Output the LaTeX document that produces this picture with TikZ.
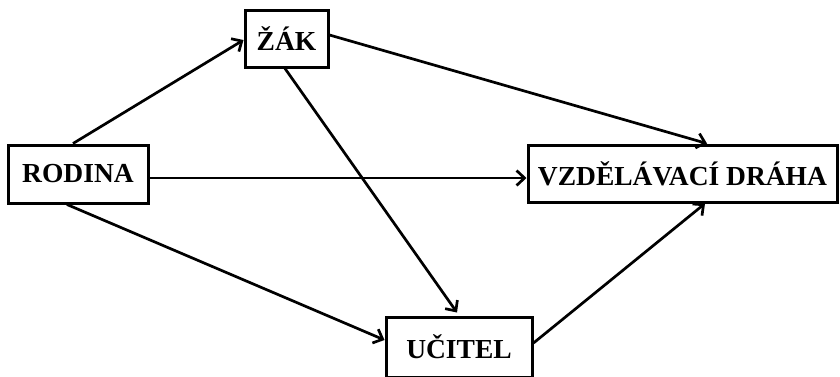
\documentclass[tikz,border=0pt]{standalone}
\usepackage{fontspec}
\setmainfont{Liberation Serif}
\usetikzlibrary{arrows.meta}
\begin{document}
\begin{tikzpicture}[x=1pt,y=-1pt,
  box/.style={draw=black,line width=3pt,rectangle,inner sep=0pt,
    font=\fontsize{27.5}{30}\selectfont\bfseries},
  conn/.style={line width=2.7pt,-{Straight Barb[length=8pt,width=15pt,line width=2.7pt]}}]
\useasboundingbox (0,0) rectangle (840,376);
\node[box,minimum width=83pt,minimum height=57pt] (zak) at (286.5,38.5) {ŽÁK};
\node[box,minimum width=140pt,minimum height=58pt] (rodina) at (78,174) {RODINA};
\node[box,minimum width=309pt,minimum height=57pt] (vzd) at (682.5,173.5) {VZDĚLÁVACÍ DRÁHA};
\node[box,minimum width=146pt,minimum height=60pt] (ucitel) at (459,347) {UČITEL};
\draw[conn] ([xshift=-5pt]rodina.north) -- ([yshift=-1.5pt]zak.west);
\draw[conn] ([yshift=3.5pt]zak.east) -- ([xshift=24.5pt]vzd.north);
\draw[conn] ([xshift=-1.5pt]zak.south) -- ([xshift=-2pt,yshift=3pt]ucitel.north);
\draw[conn] ([yshift=-4pt]rodina.east) -- ([yshift=-4.5pt]vzd.west);
\draw[conn] ([xshift=-11pt]rodina.south) -- ([yshift=7pt]ucitel.west);
\draw[conn] ([yshift=4pt]ucitel.east) -- ([xshift=22.5pt]vzd.south);
\end{tikzpicture}
\end{document}
